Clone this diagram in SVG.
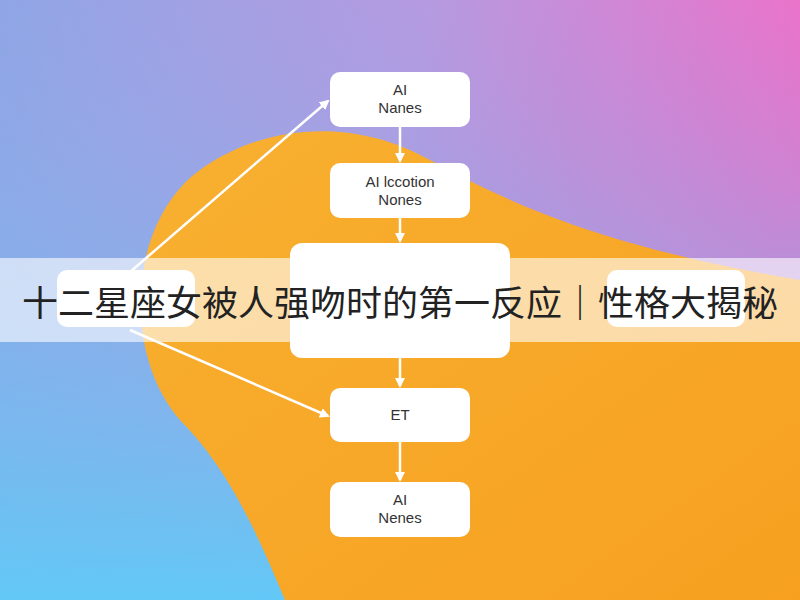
<svg xmlns="http://www.w3.org/2000/svg" width="800" height="600" viewBox="0 0 800 600">
<defs>
<linearGradient id="bg" x1="0" y1="0" x2="1" y2="0.3">
<stop offset="0" stop-color="#8fa6e6"/><stop offset="0.5" stop-color="#b69ae0"/><stop offset="1" stop-color="#f46cc6"/>
</linearGradient>
<linearGradient id="bl" x1="0" y1="0" x2="0" y2="1">
<stop offset="0" stop-color="#7fb0ea" stop-opacity="0"/><stop offset="1" stop-color="#62c8f6"/>
</linearGradient>
<linearGradient id="or" x1="0" y1="0" x2="1" y2="1">
<stop offset="0" stop-color="#f8b030"/><stop offset="1" stop-color="#f7a020"/>
</linearGradient>
<marker id="ah" markerWidth="10" markerHeight="10" refX="8" refY="5" orient="auto" markerUnits="userSpaceOnUse"><path d="M0,0 L10,5 L0,10 z" fill="#fff"/></marker>
<style>
.box{fill:#fff;}
.t{font-family:"Liberation Sans",Arial,sans-serif;font-size:15px;fill:#333;text-anchor:middle;}
.c{stroke:#fff;stroke-width:2.5;fill:none;marker-end:url(#ah);}
</style>
</defs>
<rect width="800" height="600" fill="url(#bg)"/>
<rect width="800" height="600" fill="url(#bl)"/>
<path d="M200,170 C270,120 360,120 430,160 C520,210 620,250 800,280 L800,600 L285,600 C260,540 230,470 180,420 C120,350 130,220 200,170 Z" fill="url(#or)"/>
<g id="connectors">
<path class="c" d="M130,272 L328,101"/>
<path class="c" d="M130,330 L328,416"/>
<path class="c" d="M400,127 L400,161"/>
<path class="c" d="M400,218 L400,241"/>
<path class="c" d="M400,358 L400,386"/>
<path class="c" d="M400,442 L400,480"/>
</g>
<g id="n1"><rect class="box" x="330" y="72" width="140" height="55" rx="10"/><text class="t" x="400" y="95">AI</text><text class="t" x="400" y="113">Nanes</text></g>
<g id="n2"><rect class="box" x="330" y="163" width="140" height="55" rx="10"/><text class="t" x="400" y="187">AI lccotion</text><text class="t" x="400" y="205">Nones</text></g>
<g id="n3"><rect class="box" x="290" y="243" width="220" height="115" rx="12"/></g>
<g id="n4"><rect class="box" x="330" y="388" width="140" height="54" rx="10"/><text class="t" x="400" y="420">ET</text></g>
<g id="n5"><rect class="box" x="330" y="482" width="140" height="55" rx="10"/><text class="t" x="400" y="505">AI</text><text class="t" x="400" y="523">Nenes</text></g>
<g id="n6"><rect class="box" x="57" y="270" width="138" height="57" rx="10"/></g>
<g id="n7"><rect class="box" x="607" y="270" width="138" height="57" rx="10"/></g>
<rect x="0" y="258" width="800" height="84" fill="#fff" fill-opacity="0.6"/>
<text x="400" y="316" font-family="'Noto Sans CJK SC',sans-serif" font-size="35" fill="#222" text-anchor="middle" textLength="756" lengthAdjust="spacingAndGlyphs">十二星座女被人强吻时的第一反应｜性格大揭秘</text>
</svg>
